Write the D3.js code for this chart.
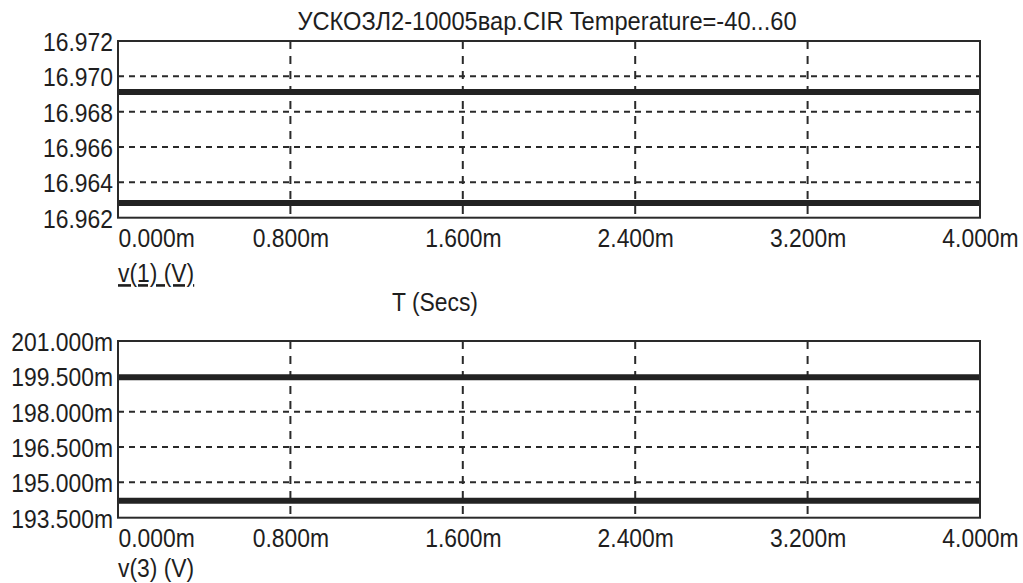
<!DOCTYPE html>
<html>
<head>
<meta charset="utf-8">
<script src="https://cdn.jsdelivr.net/npm/d3@7"></script>
<style>
  html, body { margin: 0; padding: 0; background: #fff; }
  svg { display: block; }
  text { font-family: "Liberation Sans", Arial, sans-serif; fill: #1e1e1e; }
</style>
</head>
<body>
<svg id="chart" width="1023" height="583"></svg>
<script>
// Transient analysis, temperature sweep: two runs per probed node
const timeS = [0, 0.004];
const v1RunA = [16.96911, 16.96911];
const v1RunB = [16.96283, 16.96283];
const v3RunA = [0.19946, 0.19946];
const v3RunB = [0.19422, 0.19422];

const xTicks = [0, 0.0008, 0.0016, 0.0024, 0.0032, 0.004];
const xTickLabels = ["0.000m", "0.800m", "1.600m", "2.400m", "3.200m", "4.000m"];
const yTicksV1 = [16.962, 16.964, 16.966, 16.968, 16.970, 16.972];
const yTickLabelsV1 = ["16.962", "16.964", "16.966", "16.968", "16.970", "16.972"];
const yTicksV3 = [0.1935, 0.1950, 0.1965, 0.1980, 0.1995, 0.2010];
const yTickLabelsV3 = ["193.500m", "195.000m", "196.500m", "198.000m", "199.500m", "201.000m"];

const titleText = "УСКОЗЛ2-10005вар.CIR Temperature=-40...60";
const xAxisTitle = "T (Secs)";

const svg = d3.select("#chart");
const FONT = 26, SX = 0.88;           // narrow, tall lettering
const left = 118, right = 980;

const x = d3.scaleLinear().domain([0, 0.004]).range([left, right]);

function panel(top, bottom, yTicks, yLabels, series, traceLabel, traceY, underline) {
  const y = d3.scaleLinear().domain([yTicks[0], yTicks[yTicks.length - 1]]).range([bottom, top]);
  const g = svg.append("g");

  // dashed grid
  g.selectAll("line.hg").data(yTicks.slice(1, -1)).join("line")
    .attr("x1", left).attr("x2", right)
    .attr("y1", d => y(d)).attr("y2", d => y(d))
    .attr("stroke", "#2a2a2a").attr("stroke-width", 2).attr("stroke-dasharray", "6,5");
  g.selectAll("line.vg").data(xTicks.slice(1, -1)).join("line")
    .attr("x1", d => x(d)).attr("x2", d => x(d))
    .attr("y1", top).attr("y2", bottom)
    .attr("stroke", "#2a2a2a").attr("stroke-width", 2).attr("stroke-dasharray", "8,7");

  // traces
  const line = d3.line().x((d, i) => x(timeS[i])).y(d => y(d));
  series.forEach(s => {
    g.append("path").datum(s).attr("d", line)
      .attr("fill", "none").attr("stroke", "#222").attr("stroke-width", 6);
  });

  // frame
  g.append("rect").attr("x", left).attr("y", top)
    .attr("width", right - left).attr("height", bottom - top)
    .attr("fill", "none").attr("stroke", "#2a2a2a").attr("stroke-width", 2);

  // y axis labels
  const ya = g.append("g").attr("transform", `translate(${left},0)`)
    .call(d3.axisLeft(y).tickValues(yTicks).tickSize(0).tickPadding(0)
      .tickFormat((d, i) => yLabels[i]));
  ya.select(".domain").remove();
  ya.selectAll("text").attr("font-size", FONT).attr("font-family", null)
    .attr("dy", "0.36em")
    .attr("transform", `scale(${SX},1)`).attr("x", -5 / SX);

  // x axis labels
  const xa = g.append("g").attr("transform", `translate(0,${bottom})`)
    .call(d3.axisBottom(x).tickValues(xTicks).tickSize(0).tickPadding(0)
      .tickFormat((d, i) => xTickLabels[i]));
  xa.select(".domain").remove();
  xa.selectAll("text").attr("font-size", FONT).attr("font-family", null)
    .attr("y", 29).attr("dy", null)
    .attr("transform", `scale(${SX},1)`)
    .attr("text-anchor", (d, i) => i === 0 ? "start" : "middle");

  // trace name under the axis
  svg.append("text").attr("transform", `translate(${left},${traceY}) scale(${SX},1)`)
    .attr("font-size", FONT)
    .style("text-decoration", underline ? "underline" : null)
    .text(traceLabel);
}

panel(41, 217.7, yTicksV1, yTickLabelsV1, [v1RunA, v1RunB], "v(1) (V)", 282, true);
panel(341, 517.7, yTicksV3, yTickLabelsV3, [v3RunA, v3RunB], "v(3) (V)", 577, false);

svg.append("text").attr("transform", `translate(${(left + right) / 2 - 2},30) scale(0.91,1)`)
  .attr("font-size", FONT).attr("text-anchor", "middle").text(titleText);

svg.append("text").attr("transform", `translate(435,311) scale(${SX},1)`)
  .attr("font-size", FONT).attr("text-anchor", "middle").text(xAxisTitle);
</script>
</body>
</html>
